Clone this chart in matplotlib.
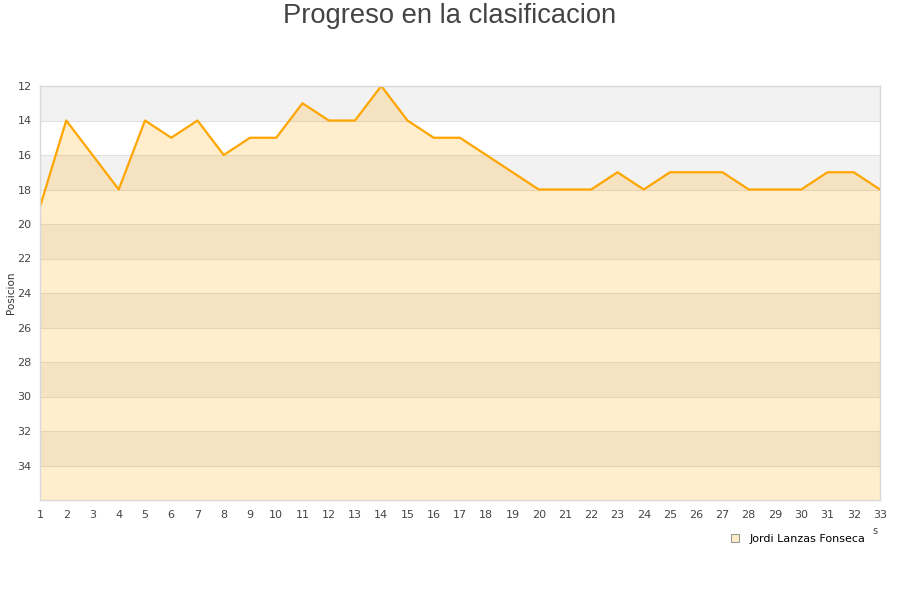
import matplotlib
matplotlib.use("Agg")
import matplotlib.pyplot as plt
from matplotlib.lines import Line2D

jornadas = list(range(1, 34))
posiciones = [19, 14, 16, 18, 14, 15, 14, 16, 15, 15, 13, 14, 14, 12, 14, 15, 15,
              16, 17, 18, 18, 18, 17, 18, 17, 17, 17, 18, 18, 18, 17, 17, 18]
y_ticks = list(range(12, 35, 2))
jugador = "Jordi Lanzas Fonseca"
titulo = "Progreso en la clasificacion"

plt.rcParams['font.family'] = ['DejaVu Sans']
fig = plt.figure(figsize=(9, 6), dpi=100)
ax = fig.add_axes([40/900, 100/600, 840/900, 414/600])

ymin, ymax = 12, 36
for i, lo in enumerate(range(12, 36, 2)):
    if i % 2 == 0:
        ax.axhspan(lo, lo + 2, color='#f2f2f2', lw=0, zorder=0)

for t in y_ticks:
    ax.axhline(t, color='#e0e0e0', lw=0.8, zorder=0.5)

ax.fill_between(jornadas, posiciones, ymax, color='#ffa500', alpha=0.2, lw=0, zorder=1)
ax.plot(jornadas, posiciones, color='#ffa500', lw=1.6, zorder=2)

ax.set_xlim(1, 33)
ax.set_ylim(ymax, ymin)
ax.set_yticks(y_ticks)
ax.set_xticks(jornadas)
ax.tick_params(axis='both', length=0, labelsize=8, colors='#444444', pad=6)
ax.tick_params(axis='x', pad=7)
for s in ax.spines.values():
    s.set_color('#d8d8d8')
    s.set_linewidth(1)

fig.text(11/900, 1 - 293/600, "Posicion", rotation=90, ha='center', va='center',
         fontsize=7.5, color='#333333')
fig.text(0.5, 1 - 16/600, titulo, ha='center', va='center', fontsize=19.7,
         color='#444444', family=['Liberation Sans', 'DejaVu Sans'])
fig.text(875/900, 1 - 531/600, "s", ha='center', va='center', fontsize=7, color='#444444')

h = Line2D([], [], marker='s', ls='none', markersize=6, markerfacecolor='#ffecc9',
           markeredgecolor='#999999', markeredgewidth=0.8)
leg = fig.legend([h], [jugador], loc='center', bbox_to_anchor=(795/900, 1 - 539/600),
                 frameon=False, fontsize=8, handletextpad=0.3, borderpad=0)

fig.savefig("out.png", dpi=100)
